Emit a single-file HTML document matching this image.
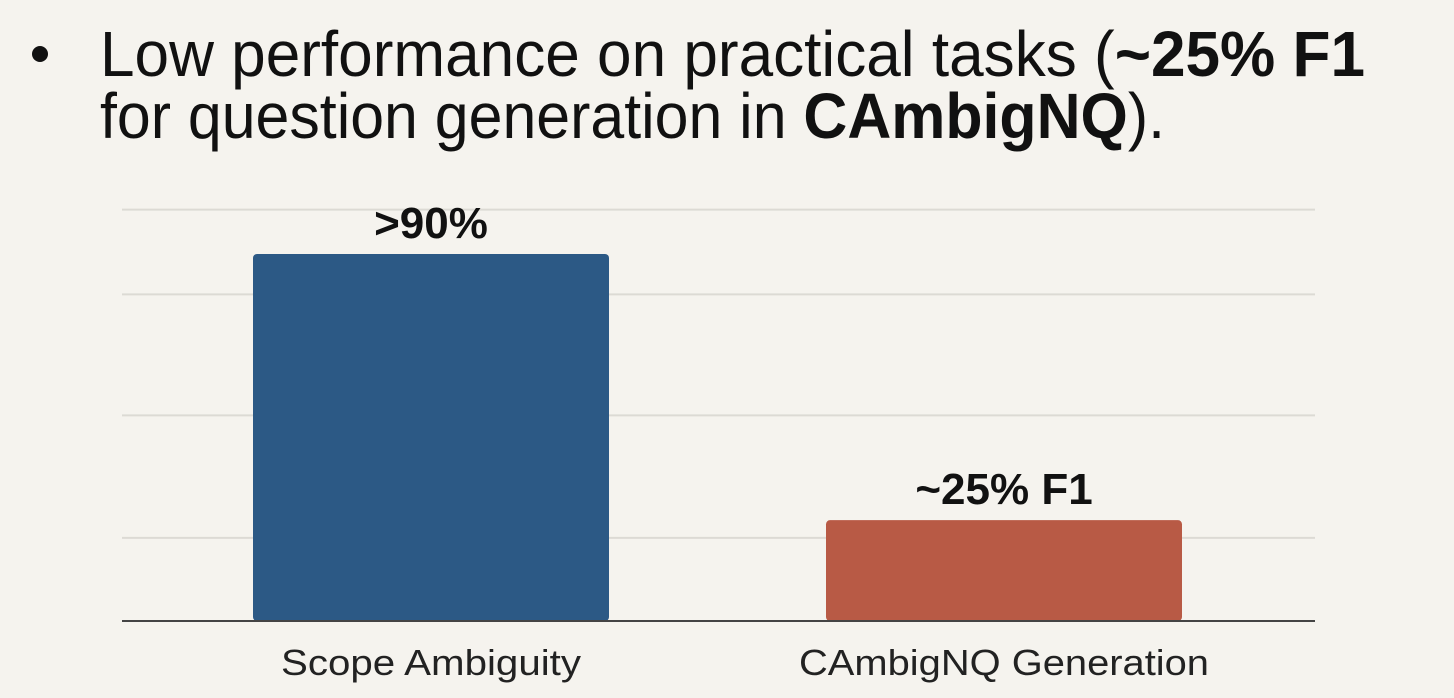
<!DOCTYPE html>
<html><head><meta charset="utf-8"><style>
html,body{margin:0;padding:0;background:#f5f3ee;}
svg{display:block;font-family:"Liberation Sans",Arial,sans-serif;}
</style></head><body>
<svg id="chart" width="1454" height="698" viewBox="0 0 1454 698">
<rect width="1454" height="698" fill="#f5f3ee"/>
<circle cx="40" cy="54" r="8" fill="#111"/>
<text x="100" y="76" font-size="64" fill="#111" textLength="1265" lengthAdjust="spacingAndGlyphs">Low performance on practical tasks (<tspan font-weight="bold">~25% F1</tspan></text>
<text x="100" y="138" font-size="64" fill="#111" textLength="1065" lengthAdjust="spacingAndGlyphs">for question generation in <tspan font-weight="bold">CAmbigNQ</tspan>).</text>
<g id="grid"></g>
<g id="bars"></g>
<line x1="122" y1="621" x2="1315" y2="621" stroke="#444" stroke-width="2"/>
</svg>
<script>
const categories = ["Scope Ambiguity", "CAmbigNQ Generation"];
const values = [91, 25];
const valueLabels = [">90%", "~25% F1"];
const gridValues = [20.6, 51, 81, 102];
const colors = ["#2c5985", "#b85a45"];

const y0 = 621, pxPer = 367 / 91;
const yScale = v => y0 - v * pxPer;
const xLeft = [253, 826], barW = 356;
const NS = "http://www.w3.org/2000/svg";
const grid = document.getElementById('grid'), bars = document.getElementById('bars');
gridValues.forEach((g, i) => {
  const l = document.createElementNS(NS, 'line');
  l.setAttribute('x1', 122); l.setAttribute('x2', 1315);
  l.setAttribute('y1', yScale(g)); l.setAttribute('y2', yScale(g));
  l.setAttribute('stroke', '#dcdad4'); l.setAttribute('stroke-width', 2);
  
  
  grid.appendChild(l);
});
categories.forEach((c, i) => {
  const x = xLeft[i], top = yScale(values[i]);
  const r = document.createElementNS(NS, 'rect');
  r.setAttribute('x', x); r.setAttribute('y', top);
  r.setAttribute('width', barW); r.setAttribute('height', y0 - top);
  r.setAttribute('rx', 4); r.setAttribute('fill', colors[i]);
  
  
  bars.appendChild(r);
  const t = document.createElementNS(NS, 'text');
  t.setAttribute('x', x + barW / 2); t.setAttribute('y', top - 16);
  t.setAttribute('text-anchor', 'middle'); t.setAttribute('font-size', 44);
  t.setAttribute('font-weight', 'bold'); t.setAttribute('fill', '#111');
  t.textContent = valueLabels[i];
  
  
  bars.appendChild(t);
  const a = document.createElementNS(NS, 'text');
  a.setAttribute('x', x + barW / 2); a.setAttribute('y', 675);
  a.setAttribute('text-anchor', 'middle'); a.setAttribute('font-size', 36);
  a.setAttribute('fill', '#222');
  a.setAttribute('textLength', i === 0 ? 300 : 410);
  a.setAttribute('lengthAdjust', 'spacingAndGlyphs');
  a.textContent = c;
  
  
  bars.appendChild(a);
});
</script>
</body></html>
